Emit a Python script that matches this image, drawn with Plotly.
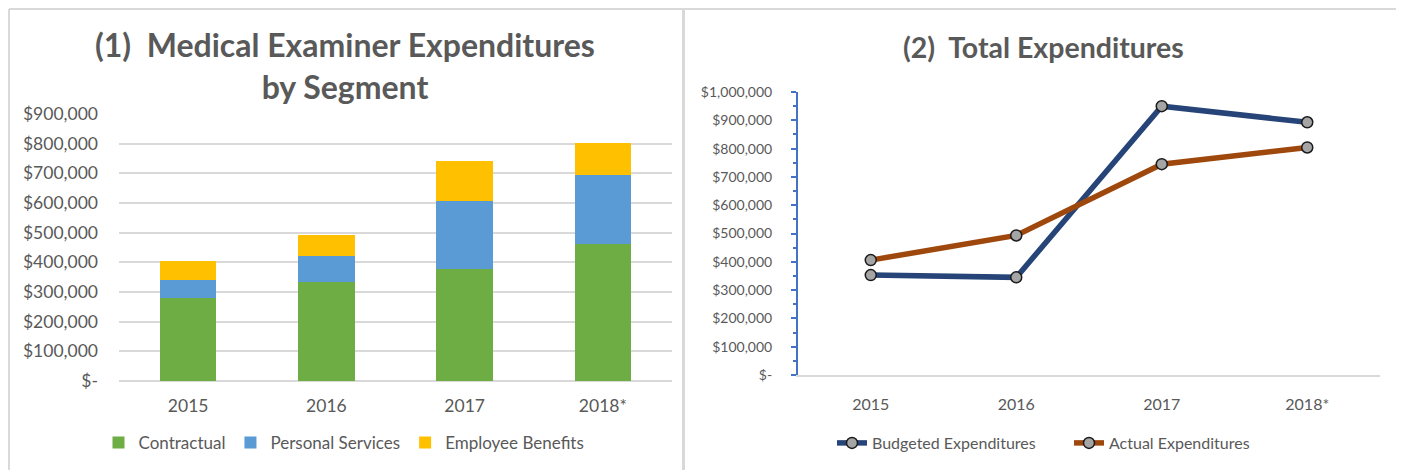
import plotly.graph_objects as go

# ---- data ----
years = ["2015", "2016", "2017", "2018*"]
contractual = [280000, 333000, 377000, 462000]
personal_services = [60000, 89000, 229000, 233000]
employee_benefits = [64000, 70000, 136000, 108000]

budgeted = [353000, 345000, 950000, 893000]
actual = [406000, 493000, 745000, 804000]

left_ticks = [0, 100000, 200000, 300000, 400000, 500000, 600000, 700000, 800000, 900000]
left_ticktext = ["$-", "$100,000", "$200,000", "$300,000", "$400,000", "$500,000",
                 "$600,000", "$700,000", "$800,000", "$900,000"]
right_ticks = [0, 100000, 200000, 300000, 400000, 500000, 600000, 700000, 800000, 900000, 1000000]
right_ticktext = ["$-", "$100,000", "$200,000", "$300,000", "$400,000", "$500,000",
                  "$600,000", "$700,000", "$800,000", "$900,000", "$1,000,000"]

W, H = 1404, 470
OX, OY = 8, 8  # page offset compensation
FONT = "Lato"
GREY = "#595959"
BORDER = "#D9D9D9"


def px(x):
    return (x - OX) / W


def py(y):
    return 1 - (y - OY) / H


fig = go.Figure()

bar_specs = [("Contractual", contractual, "#6DAD43"),
             ("Personal Services", personal_services, "#5B9BD5"),
             ("Employee Benefits", employee_benefits, "#FFC000")]
for name, vals, col in bar_specs:
    fig.add_trace(go.Bar(x=years, y=vals, name=name, marker=dict(color=col, line=dict(width=0)),
                         xaxis="x", yaxis="y", legend="legend"))

line_specs = [("Budgeted Expenditures", budgeted, "#264478"),
              ("Actual Expenditures", actual, "#9E480E")]
for name, vals, col in line_specs:
    fig.add_trace(go.Scatter(x=years, y=vals, name=name, mode="lines+markers",
                             line=dict(color=col, width=5.5),
                             marker=dict(size=11, color="#A5A5A5", line=dict(color="#1a1a1a", width=1.5)),
                             xaxis="x2", yaxis="y2", legend="legend2"))

fig.update_layout(
    width=W, height=H,
    margin=dict(l=0, r=0, t=0, b=0, autoexpand=False),
    paper_bgcolor="white", plot_bgcolor="white",
    font=dict(family=FONT, color=GREY, size=15),
    barmode="stack", bargap=0.59,
    showlegend=True,
    xaxis=dict(domain=[px(119), px(672)], range=[-0.5, 3.5], showgrid=False, showline=False, ticks="",
               automargin=False, tickfont=dict(size=17.5, color=GREY), ticklabelstandoff=12),
    yaxis=dict(domain=[py(381), py(114)], range=[0, 900000], tickvals=left_ticks, ticktext=left_ticktext,
               showgrid=True, gridcolor=BORDER, gridwidth=1.5, zeroline=True, zerolinecolor=BORDER,
               zerolinewidth=1.5, showline=False, ticks="", tickfont=dict(size=17.5, color=GREY),
               automargin=False, ticklabelstandoff=20),
    xaxis2=dict(domain=[px(798), px(1380)], range=[-0.5, 3.5], showgrid=False, showline=True,
                linecolor=BORDER, linewidth=1.5, automargin=False,
                ticks="", anchor="y2", tickfont=dict(size=16, color=GREY), ticklabelstandoff=14),
    yaxis2=dict(domain=[py(375), py(92)], range=[0, 1000000], tickvals=right_ticks, ticktext=right_ticktext,
                anchor="x2", showgrid=False, zeroline=False, showline=True, linecolor="#4472C4", linewidth=2,
                ticks="outside", ticklen=5, tickwidth=2, tickcolor="#4472C4", automargin=False,
                minor=dict(ticks="outside", ticklen=3, tickwidth=2, tickcolor="#4472C4", dtick=50000),
                tickfont=dict(size=14, color=GREY), ticklabelstandoff=16),
    legend=dict(orientation="h", x=px(344), xanchor="center", y=py(443), yanchor="middle",
                font=dict(size=17, color=GREY), traceorder="normal", itemwidth=30,
                bgcolor="rgba(0,0,0,0)"),
    legend2=dict(orientation="h", x=px(832), xanchor="left", y=py(443), yanchor="middle",
                 font=dict(size=16, color=GREY), traceorder="normal", itemwidth=30,
                 entrywidth=192, entrywidthmode="pixels",
                 bgcolor="rgba(0,0,0,0)"),
    annotations=[
        dict(text="<b>(1)  Medical Examiner Expenditures</b><br><b>by Segment</b>", x=px(345), y=py(65),
             xref="paper", yref="paper", xanchor="center", yanchor="middle", showarrow=False,
             font=dict(size=32, color=GREY, family=FONT)),
        dict(text="<b>(2)  Total Expenditures</b>", x=px(1043), y=py(47),
             xref="paper", yref="paper", xanchor="center", yanchor="middle", showarrow=False,
             font=dict(size=28.5, color=GREY, family=FONT)),
    ],
    shapes=[
        dict(type="line", xref="paper", yref="paper", x0=px(9), x1=px(1401), y0=py(9), y1=py(9),
             line=dict(color=BORDER, width=2)),
        dict(type="line", xref="paper", yref="paper", x0=px(9), x1=px(9), y0=py(9), y1=0,
             line=dict(color=BORDER, width=2)),
        dict(type="line", xref="paper", yref="paper", x0=px(683.5), x1=px(683.5), y0=py(9), y1=0,
             line=dict(color=BORDER, width=3)),
        dict(type="line", xref="paper", yref="paper", x0=px(1401), x1=px(1401), y0=py(9), y1=0,
             line=dict(color=BORDER, width=2)),
    ],
)

fig.write_html("out.html")
